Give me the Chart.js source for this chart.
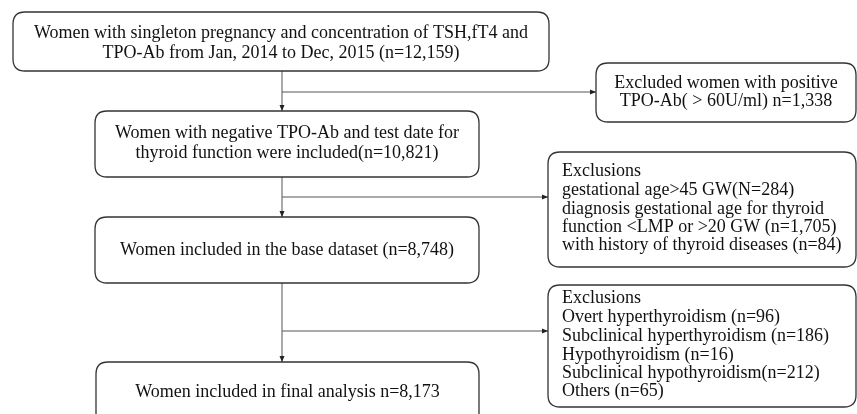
<!DOCTYPE html>
<html>
<head>
<meta charset="utf-8">
<script src="https://cdn.jsdelivr.net/npm/chart.js@4"></script>
<style>
  html, body { margin: 0; padding: 0; background: #fff; }
  #flowChart { display: block; }
</style>
</head>
<body>
<canvas id="flowChart" width="857" height="414"></canvas>
<script>
// Counts
const mainCounts = [12159, 10821, 8748, 8173];
const tpoExcluded = 1338;
const exclusionsA = [284, 1705, 84];
const exclusionsB = [96, 186, 16, 212, 65];

const fmt = n => n.toLocaleString('en-US');

// Box texts (built from the counts above)
const mainTexts = [
  ['Women with singleton pregnancy and concentration of TSH,fT4 and',
   'TPO-Ab from Jan, 2014 to Dec, 2015 (n=' + fmt(mainCounts[0]) + ')'],
  ['Women with negative TPO-Ab and test date for',
   'thyroid function were included(n=' + fmt(mainCounts[1]) + ')'],
  ['Women included in the base dataset (n=' + fmt(mainCounts[2]) + ')'],
  ['Women included in final analysis n=' + fmt(mainCounts[3])]
];
const sideTexts = [
  ['Excluded women with positive',
   'TPO-Ab( > 60U/ml) n=' + fmt(tpoExcluded)],
  ['Exclusions',
   'gestational age>45 GW(N=' + exclusionsA[0] + ')',
   'diagnosis gestational age for thyroid',
   'function <LMP or >20 GW (n=' + fmt(exclusionsA[1]) + ')',
   'with history of thyroid diseases (n=' + exclusionsA[2] + ')'],
  ['Exclusions',
   'Overt hyperthyroidism (n=' + exclusionsB[0] + ')',
   'Subclinical hyperthyroidism (n=' + exclusionsB[1] + ')',
   'Hypothyroidism (n=' + exclusionsB[2] + ')',
   'Subclinical hypothyroidism(n=' + exclusionsB[3] + ')',
   'Others (n=' + exclusionsB[4] + ')']
];

// Layout in scale units (x: 0-857, y: 0-414 top down)
const mainBoxes = [
  {x0: 13, x1: 549, y0: 12, y1: 71, lineY: [33, 53]},
  {x0: 95, x1: 479, y0: 111, y1: 177, lineY: [133, 153]},
  {x0: 95, x1: 479, y0: 217, y1: 283, lineY: [250]},
  {x0: 96, x1: 479, y0: 362, y1: 425, lineY: [392]}
];
const sideBoxes = [
  {x0: 596, x1: 856, y0: 63, y1: 122, align: 'center', lineY: [83, 101]},
  {x0: 548, x1: 856, y0: 152, y1: 267, align: 'left', tx: 562, lineY: [171, 190, 209, 227, 245]},
  {x0: 548, x1: 856, y0: 285, y1: 407, align: 'left', tx: 562, lineY: [298, 317, 336, 355, 373, 391]}
];
const trunkX = 282;
const branchY = [92, 197, 331];

function roundRect(ctx, x0, y0, x1, y1, r) {
  ctx.beginPath();
  ctx.moveTo(x0 + r, y0);
  ctx.lineTo(x1 - r, y0);
  ctx.quadraticCurveTo(x1, y0, x1, y0 + r);
  ctx.lineTo(x1, y1 - r);
  ctx.quadraticCurveTo(x1, y1, x1 - r, y1);
  ctx.lineTo(x0 + r, y1);
  ctx.quadraticCurveTo(x0, y1, x0, y1 - r);
  ctx.lineTo(x0, y0 + r);
  ctx.quadraticCurveTo(x0, y0, x0 + r, y0);
  ctx.closePath();
  ctx.stroke();
}

function arrow(ctx, x0, y0, x1, y1) {
  ctx.beginPath();
  ctx.moveTo(x0, y0);
  ctx.lineTo(x1, y1);
  ctx.stroke();
  const a = Math.atan2(y1 - y0, x1 - x0), s = 6;
  ctx.beginPath();
  ctx.moveTo(x1, y1);
  ctx.lineTo(x1 - s * Math.cos(a) + 2.5 * Math.sin(a), y1 - s * Math.sin(a) - 2.5 * Math.cos(a));
  ctx.lineTo(x1 - s * Math.cos(a) - 2.5 * Math.sin(a), y1 - s * Math.sin(a) + 2.5 * Math.cos(a));
  ctx.closePath();
  ctx.fill();
}

const flowPlugin = {
  id: 'flow',
  afterDatasetsDraw(chart) {
    const ctx = chart.ctx;
    const X = v => chart.scales.x.getPixelForValue(v);
    const Y = v => chart.scales.y.getPixelForValue(v);
    ctx.save();
    ctx.font = '18px "Liberation Serif", serif';
    ctx.textBaseline = 'middle';

    // connectors
    ctx.strokeStyle = '#555';
    ctx.fillStyle = '#222';
    ctx.lineWidth = 1;
    for (let i = 0; i < 3; i++) {
      arrow(ctx, X(trunkX), Y(mainBoxes[i].y1), X(trunkX), Y(mainBoxes[i + 1].y0));
      arrow(ctx, X(trunkX), Y(branchY[i]), X(sideBoxes[i].x0), Y(branchY[i]));
    }

    // boxes
    ctx.strokeStyle = '#333';
    ctx.lineWidth = 1.3;
    ctx.fillStyle = '#111';
    mainBoxes.forEach((b, i) => {
      roundRect(ctx, X(b.x0), Y(b.y0), X(b.x1), Y(b.y1), 12);
      ctx.textAlign = 'center';
      mainTexts[i].forEach((t, k) => ctx.fillText(t, X((b.x0 + b.x1) / 2), Y(b.lineY[k])));
    });
    sideBoxes.forEach((b, i) => {
      roundRect(ctx, X(b.x0), Y(b.y0), X(b.x1), Y(b.y1), 12);
      ctx.textAlign = b.align;
      const tx = b.align === 'center' ? (b.x0 + b.x1) / 2 : b.tx;
      sideTexts[i].forEach((t, k) => ctx.fillText(t, X(tx), Y(b.lineY[k])));
    });
    ctx.restore();
  }
};

const ctx = document.getElementById('flowChart').getContext('2d');
const flowChart = new Chart(ctx, {
  type: 'scatter',
  data: {
    datasets: [{
      label: 'Women (n)',
      data: mainBoxes.map((b, i) => ({x: (b.x0 + b.x1) / 2, y: (b.y0 + b.y1) / 2, n: mainCounts[i]})),
      pointRadius: 0
    }]
  },
  options: {
    responsive: false,
    animation: false,
    layout: { padding: 0 },
    plugins: { legend: { display: false }, tooltip: { enabled: false } },
    scales: {
      x: { type: 'linear', min: 0, max: 857, display: false },
      y: { type: 'linear', min: 0, max: 414, reverse: true, display: false }
    }
  },
  plugins: [flowPlugin]
});
</script>
</body>
</html>
